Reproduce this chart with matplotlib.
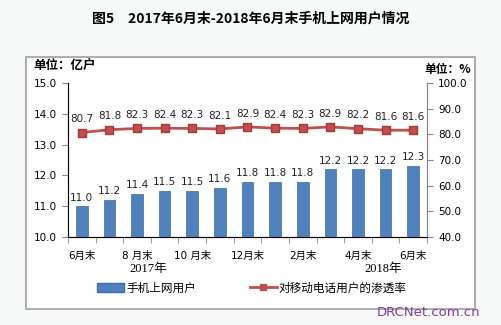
import matplotlib
matplotlib.use("Agg")
import matplotlib.pyplot as plt
from matplotlib.patches import Rectangle, Patch
from matplotlib.lines import Line2D
import numpy as np

plt.rcParams['font.family'] = ['DejaVu Sans', 'Noto Sans CJK SC']

# data
months = ["6月末", "7月末", "8 月末", "9月末", "10 月末", "11月末", "12月末",
          "1月末", "2月末", "3月末", "4月末", "5月末", "6月末"]
users = [11.0, 11.2, 11.4, 11.5, 11.5, 11.6, 11.8, 11.8, 11.8, 12.2, 12.2, 12.2, 12.3]
rate = [80.7, 81.8, 82.3, 82.4, 82.3, 82.1, 82.9, 82.4, 82.3, 82.9, 82.2, 81.6, 81.6]
years = [("2017年", 2.4), ("2018年", 10.9)]

bar_color = '#4f81bd'
line_color = '#c0504d'

fig = plt.figure(figsize=(5.02, 3.25), dpi=100, facecolor='#f7f8f8')
fig.patches.append(Rectangle((26/502, 16/325), 449/502, 252/325, transform=fig.transFigure,
                             facecolor='white', edgecolor='#a0a0a0', linewidth=1.2, zorder=-10))

ax = fig.add_axes([68/502, 88/325, 359/502, 154/325])
ax.set_facecolor('none')
x = np.arange(len(users))
ax.bar(x, users, width=0.42, color=bar_color, edgecolor='#3d6ca6', linewidth=0.5, zorder=2)
for xi, v in zip(x, users):
    ax.text(xi, v + 0.12, f"{v:.1f}", ha='center', va='bottom', fontsize=7.5, color='#222222')
ax.set_ylim(10, 15)
ax.set_yticks(np.arange(10, 15.1, 1))
ax.set_yticklabels([f"{v:.1f}" for v in np.arange(10, 15.1, 1)], fontsize=7.5)
ax.set_xlim(-0.5, len(users) - 0.5)
ax.set_xticks(x[::2])
ax.set_xticklabels(months[::2], fontsize=7.5)
ax.set_xticks(np.arange(-0.5, len(users)), minor=True)
ax.tick_params(axis='x', which='major', length=0, pad=10)
ax.tick_params(axis='x', which='minor', length=4, color='#888888')
ax.tick_params(axis='y', length=4, color='#888888', pad=4)
ax.spines['top'].set_visible(False)
for s in ['left', 'right', 'bottom']:
    ax.spines[s].set_color('#888888')

ax2 = ax.twinx()
ax2.plot(x, rate, color=line_color, linewidth=2, marker='s', markersize=6,
         markerfacecolor=line_color, markeredgecolor='#a33a37', zorder=3)
for xi, v in zip(x, rate):
    ax2.text(xi, v + 3.2, f"{v:.1f}", ha='center', va='bottom', fontsize=7.5, color='#222222')
ax2.set_ylim(40, 100)
ax2.set_yticks(np.arange(40, 101, 10))
ax2.set_yticklabels([f"{v:.1f}" for v in np.arange(40, 101, 10)], fontsize=7.5)
ax2.tick_params(axis='y', length=4, color='#888888', pad=4)
ax2.spines['top'].set_visible(False)
ax2.spines['right'].set_color('#888888')

for label, pos in years:
    ax.text(pos, -0.17, label, transform=ax.get_xaxis_transform(), ha='center', va='top',
            fontsize=9, family=['Liberation Serif', 'Noto Sans CJK SC'])

fig.text(251/502, 1 - 18/325, "图5　2017年6月末-2018年6月末手机上网用户情况", ha='center',
         va='center', fontsize=10, fontweight='bold', family=['Noto Sans CJK SC'])
fig.text(33/502, 1 - 66/325, "单位：亿户", ha='left', va='center', fontsize=9,
         fontweight='bold', family=['Noto Sans CJK SC'])
fig.text(471/502, 1 - 70/325, "单位：%", ha='right', va='center', fontsize=8.5,
         fontweight='bold', family=['Noto Sans CJK SC'])

# legend
handles = [Patch(facecolor=bar_color, edgecolor='#3d6ca6'),
           Line2D([0], [0], color=line_color, linewidth=2, marker='s', markersize=5,
                  markerfacecolor=line_color)]
fig.legend(handles, ["手机上网用户", "对移动电话用户的渗透率"], loc='center',
           bbox_to_anchor=(252/502, 1 - 288/325), ncol=2, frameon=False,
           prop={'family': ['Noto Sans CJK SC'], 'size': 8.4}, columnspacing=4.6,
           handlelength=2.3, handletextpad=0.2)

fig.text(480/502, 1 - 313/325, "DRCNet.com.cn", ha='right', va='center', fontsize=9.5,
         color='#7f3f9f')

fig.savefig("out.png", dpi=100, facecolor=fig.get_facecolor())
